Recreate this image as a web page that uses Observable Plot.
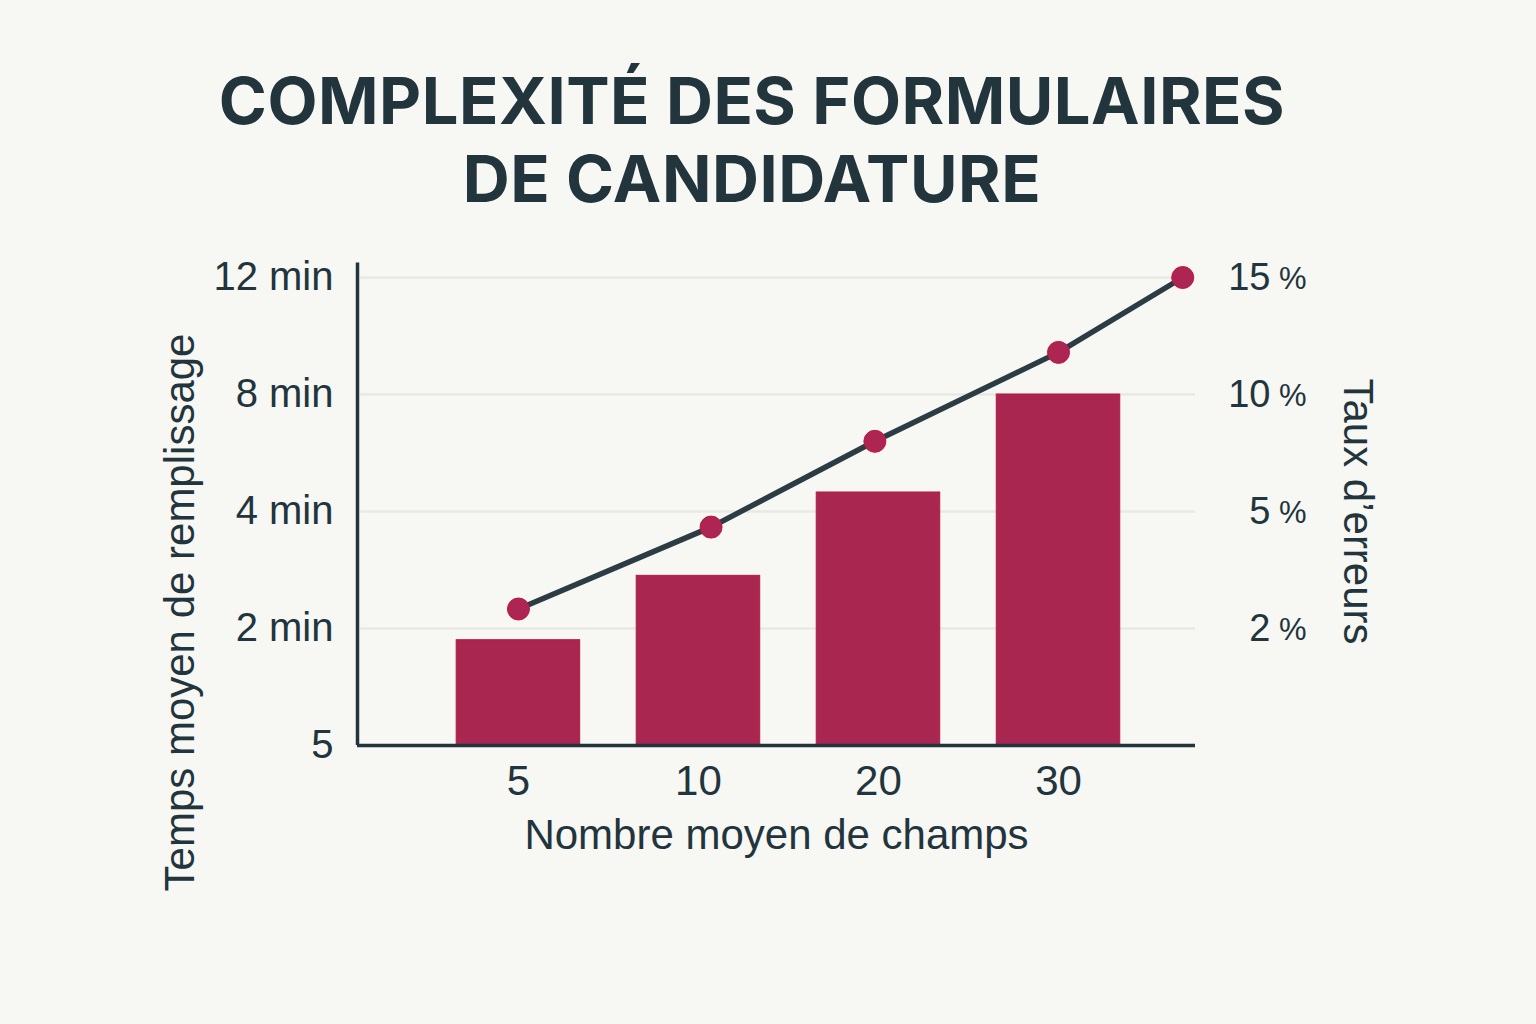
<!DOCTYPE html>
<html lang="fr">
<head>
<meta charset="utf-8">
<script src="https://cdn.jsdelivr.net/npm/d3@7"></script>
<script src="https://cdn.jsdelivr.net/npm/@observablehq/plot@0.6"></script>
<style>
  html, body { margin: 0; padding: 0; background: #f7f7f3; }
  body { width: 1536px; height: 1024px; overflow: hidden; font-family: Inter, "Noto Sans", sans-serif; }
  #title {
    height: 230px; box-sizing: border-box; padding-top: 62px; padding-right: 32px;
    text-align: center; color: #22343c; font-weight: 700; font-size: 65px;
    line-height: 78px; letter-spacing: 0.5px;
  }
  #chart svg { display: block; background: transparent; }
</style>
</head>
<body>
<div id="title">COMPLEXITÉ DES FORMULAIRES<br>DE CANDIDATURE</div>
<div id="chart"></div>
<script>
// ---- data ----
const categories = ["5", "10", "20", "30"];              // Nombre moyen de champs
const fillTime = [1.8, 2.9, 4.65, 8.0];                  // temps moyen (min, left axis)
const errorPos = [0, 1.07, 1.98, 3, 3.69];               // horizontal position of error points (category index)
const errorRate = [2.5, 4.6, 8.0, 11.8, 15.0];           // taux d'erreurs (%)
const leftTicks = [0, 2, 4, 8, 12];
const leftTickLabels = ["5", "2 min", "4 min", "8 min", "12 min"];
const rightTicks = [2, 5, 10, 15];
const rightTickLabels = ["2", "5", "10", "15"];
const rightTickUnit = "%";
const gridTicks = [2, 4, 8, 12];

// right (percent) axis mapped onto the left (minutes) piecewise axis
const pctToMin = d3.scaleLinear().domain([0, 2, 5, 10, 15]).range([0, 2, 4, 8, 12]);

const bars = categories.map((c, i) => ({i, c, v: fillTime[i]}));
const errors = errorPos.map((p, i) => ({p, e: pctToMin(errorRate[i])}));
const leftLabel = new Map(leftTicks.map((t, i) => [t, leftTickLabels[i]]));
const rightLabel = new Map(rightTicks.map((t, i) => [pctToMin(t), rightTickLabels[i]]));

const ink = "#22343c";
const font = "'Liberation Sans', Arial, sans-serif";
const xDomain = [-0.894, 3.761];

const chart = Plot.plot({
  width: 1536,
  height: 794,
  marginLeft: 357,
  marginRight: 341,
  marginTop: 47,
  marginBottom: 279,
  style: {fontFamily: font, color: ink, background: "transparent", overflow: "visible"},
  x: {type: "linear", domain: xDomain},
  y: {type: "linear", domain: leftTicks},
  marks: [
    Plot.ruleY(gridTicks, {stroke: "#e9e9e4", strokeWidth: 2.5, x1: -0.875, x2: xDomain[1]}),
    Plot.rectY(bars, {x1: d => d.i - 0.343, x2: d => d.i + 0.343, y1: 0, y2: "v", fill: "#a8264f", stroke: "#b21c45", strokeWidth: 1}),
    Plot.line(errors, {x: "p", y: "e", stroke: "#2b3c44", strokeWidth: 5.5, curve: "linear"}),
    Plot.dot(errors, {x: "p", y: "e", r: 11, fill: "#ad2552", stroke: "#c0163f", strokeWidth: 1}),
    Plot.ruleX([xDomain[0]], {y1: 0, y2: 12.5, stroke: ink, strokeWidth: 3.5}),
    Plot.ruleY([0], {stroke: ink, strokeWidth: 3.5}),
    Plot.axisY({anchor: "left", ticks: leftTicks, tickFormat: d => leftLabel.get(d), tickSize: 0, tickPadding: 24, fontSize: 40, label: null, fill: ink}),
    Plot.axisY({anchor: "right", ticks: rightTicks.map(pctToMin), tickFormat: d => rightLabel.get(d), tickSize: 0, tickPadding: 75, textAnchor: "end", fontSize: 38, label: null, fill: ink}),
    Plot.axisY({anchor: "right", ticks: rightTicks.map(pctToMin), tickFormat: () => rightTickUnit, tickSize: 0, tickPadding: 111, textAnchor: "end", fontSize: 31, dy: 2, label: null, fill: ink}),
    Plot.axisX({ticks: [0, 1, 2, 3], tickFormat: d => categories[d], tickSize: 0, tickPadding: 20, fontSize: 42, label: null, fill: ink}),
    Plot.text(["Nombre moyen de champs"], {frameAnchor: "bottom", dy: 90, fontSize: 42, fill: ink, lineAnchor: "middle", textAnchor: "middle"}),
    Plot.text(["Temps moyen de remplissage"], {frameAnchor: "left", dx: -177, dy: 101, rotate: -90, fontSize: 42, fill: ink, lineAnchor: "middle", textAnchor: "middle"}),
    Plot.text(["Taux d’erreurs"], {frameAnchor: "right", dx: 162, dy: 0, rotate: 90, fontSize: 42, fill: ink, lineAnchor: "middle", textAnchor: "middle"})
  ]
});
document.getElementById("chart").appendChild(chart);
</script>
</body>
</html>
